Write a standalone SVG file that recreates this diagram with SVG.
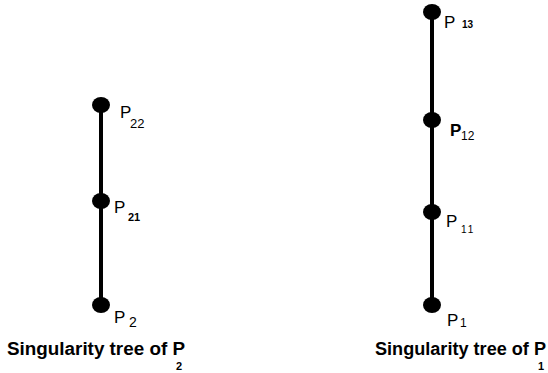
<svg xmlns="http://www.w3.org/2000/svg" width="548" height="373" viewBox="0 0 548 373">
<style>
.edge{stroke:#000;stroke-width:4;fill:none}
.dot{fill:#000}
.p{font-family:"Liberation Sans",Arial,sans-serif;font-size:17px;fill:#000}
.s{font-family:"Liberation Sans",Arial,sans-serif;font-size:12px;fill:#000}
.b{font-weight:bold}
.cap{font-family:"Liberation Sans",Arial,sans-serif;font-size:18px;font-weight:bold;fill:#000}
</style>
<rect width="548" height="373" fill="#fff"/>
<g id="connectors">
<line class="edge" x1="101" y1="105" x2="101" y2="305"/>
<line class="edge" x1="432" y1="12" x2="432" y2="305"/>
</g>
<g id="P22"><ellipse class="dot" cx="101" cy="105" rx="9" ry="8"/><text class="p" x="120" y="118">P</text><text class="s" x="130" y="128" style="font-size:13px">22</text></g>
<g id="P21"><ellipse class="dot" cx="101" cy="201" rx="9" ry="8"/><text class="p" x="114" y="213">P</text><text class="s b" x="128" y="221" style="font-size:11px">21</text></g>
<g id="P2"><ellipse class="dot" cx="101" cy="305" rx="9" ry="8"/><text class="p" x="114" y="323">P</text><text class="s" x="129" y="327" style="font-size:14px">2</text></g>
<g id="P13"><ellipse class="dot" cx="432" cy="12" rx="9" ry="8"/><text class="p" x="444" y="28">P</text><text class="s b" x="462" y="28" style="font-size:10px">13</text></g>
<g id="P12"><ellipse class="dot" cx="432" cy="120" rx="9" ry="8"/><text class="p b" x="450" y="136">P</text><text class="s" x="461" y="140">12</text></g>
<g id="P11"><ellipse class="dot" cx="432" cy="212" rx="9" ry="8"/><text class="p" x="446" y="227">P</text><text class="s" x="461" y="233" style="font-size:10px;letter-spacing:2px">11</text></g>
<g id="P1"><ellipse class="dot" cx="432" cy="305" rx="9" ry="8"/><text class="p" x="447" y="326">P</text><text class="s" x="460" y="327">1</text></g>
<g id="caption2"><text class="cap" x="7" y="355" textLength="178" lengthAdjust="spacingAndGlyphs">Singularity tree of P</text><text class="s b" x="176" y="370" style="font-size:11px">2</text></g>
<g id="caption1"><text class="cap" x="375" y="355" textLength="171" lengthAdjust="spacingAndGlyphs">Singularity tree of P</text><text class="s b" x="538" y="370" style="font-size:11px">1</text></g>
</svg>
